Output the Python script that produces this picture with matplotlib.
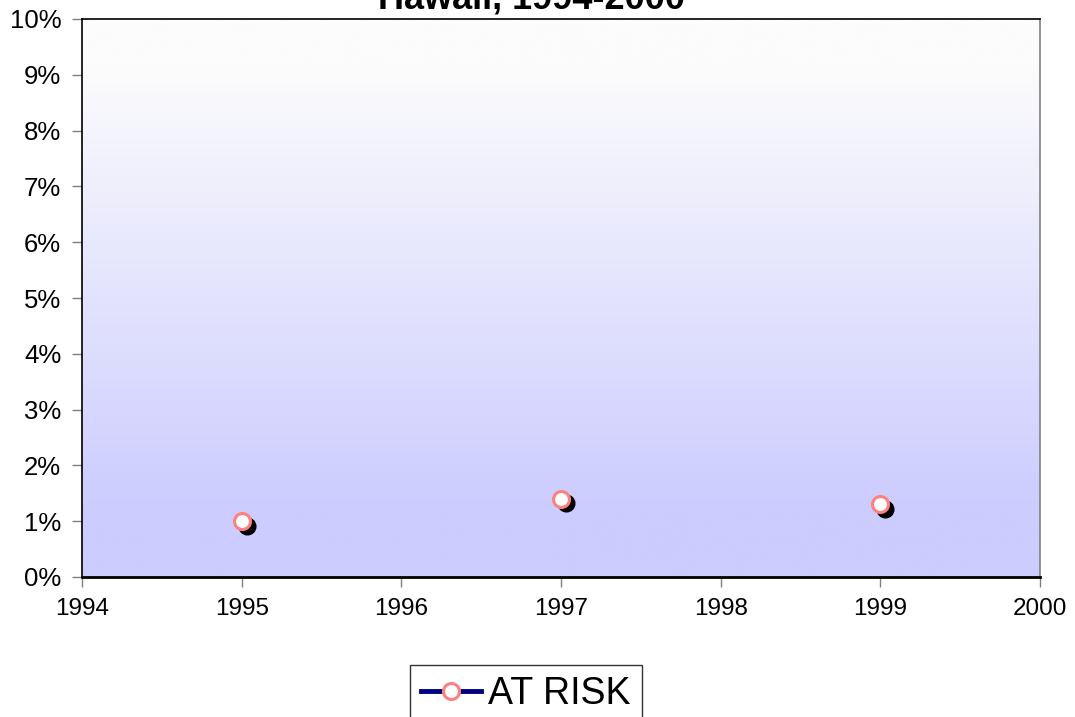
import numpy as np
import matplotlib
matplotlib.use("Agg")
import matplotlib.pyplot as plt
import matplotlib.transforms as mtransforms
from matplotlib.ticker import FuncFormatter

plt.rcParams['font.family'] = ['Liberation Sans', 'DejaVu Sans']

# data (percent)
years = [1995, 1996, 1997, 1998, 1999]
at_risk = [1.0, np.nan, 1.4, np.nan, 1.3]
series_label = "AT RISK"
title = "Hawaii, 1994-2000"

fig = plt.figure(figsize=(10.75, 7.17), dpi=100)
ax = fig.add_axes([82 / 1075, 1 - 577 / 717, (1040 - 82) / 1075, (577 - 19) / 717])

# vertical gradient: near white at top to pale lavender at bottom
t = np.clip((np.linspace(0, 1, 256) - 0.08) / 0.8, 0, 1).reshape(-1, 1)
top = np.array([252, 252, 252]) / 255
bottom = np.array([204, 204, 255]) / 255
img = top + (bottom - top) * t[..., None]
ax.imshow(img, extent=[0, 1, 0, 1], transform=ax.transAxes, aspect='auto',
          origin='upper', zorder=0)

# drop shadow of the markers
shadow = mtransforms.offset_copy(ax.transData, fig=fig, x=5, y=-4.5, units='dots')
ax.plot(years, at_risk, linestyle='none', marker='o', markersize=12,
        markerfacecolor='black', markeredgecolor='black', transform=shadow, zorder=2)
ax.plot(years, at_risk, color='#000080', linewidth=3.5, marker='o', markersize=11.5,
        markerfacecolor='white', markeredgecolor='#FF8080', markeredgewidth=2.2,
        label=series_label, zorder=3)

ax.set_xlim(1994, 2000)
ax.set_ylim(0, 10)
ax.set_xticks(range(1994, 2001))
ax.set_yticks(range(0, 11))
ax.yaxis.set_major_formatter(FuncFormatter(lambda v, p: f"{int(v)}%"))
ax.tick_params(axis='both', length=7, width=1, color='#808080',
               direction='out', pad=8)
ax.tick_params(axis='x', labelsize=17.5)
ax.tick_params(axis='y', labelsize=18.5)

for side in ['top', 'left']:
    ax.spines[side].set_color('black')
    ax.spines[side].set_linewidth(1.2)
ax.spines['bottom'].set_color('black')
ax.spines['bottom'].set_linewidth(2)
ax.spines['right'].set_color('#808080')
ax.spines['right'].set_linewidth(1.2)

fig.text(532 / 1075, 1 - 8 / 717, title, ha='center', va='baseline',
         fontsize=26, fontweight='bold')

leg = fig.legend(loc='upper center', bbox_to_anchor=(526 / 1075, 1 - 665 / 717),
                 fontsize=27, frameon=True, fancybox=False, edgecolor='black',
                 handlelength=1.6, handletextpad=0.2, borderpad=0.3,
                 borderaxespad=0)
leg.get_frame().set_linewidth(1)

fig.savefig("out.png", dpi=100)
